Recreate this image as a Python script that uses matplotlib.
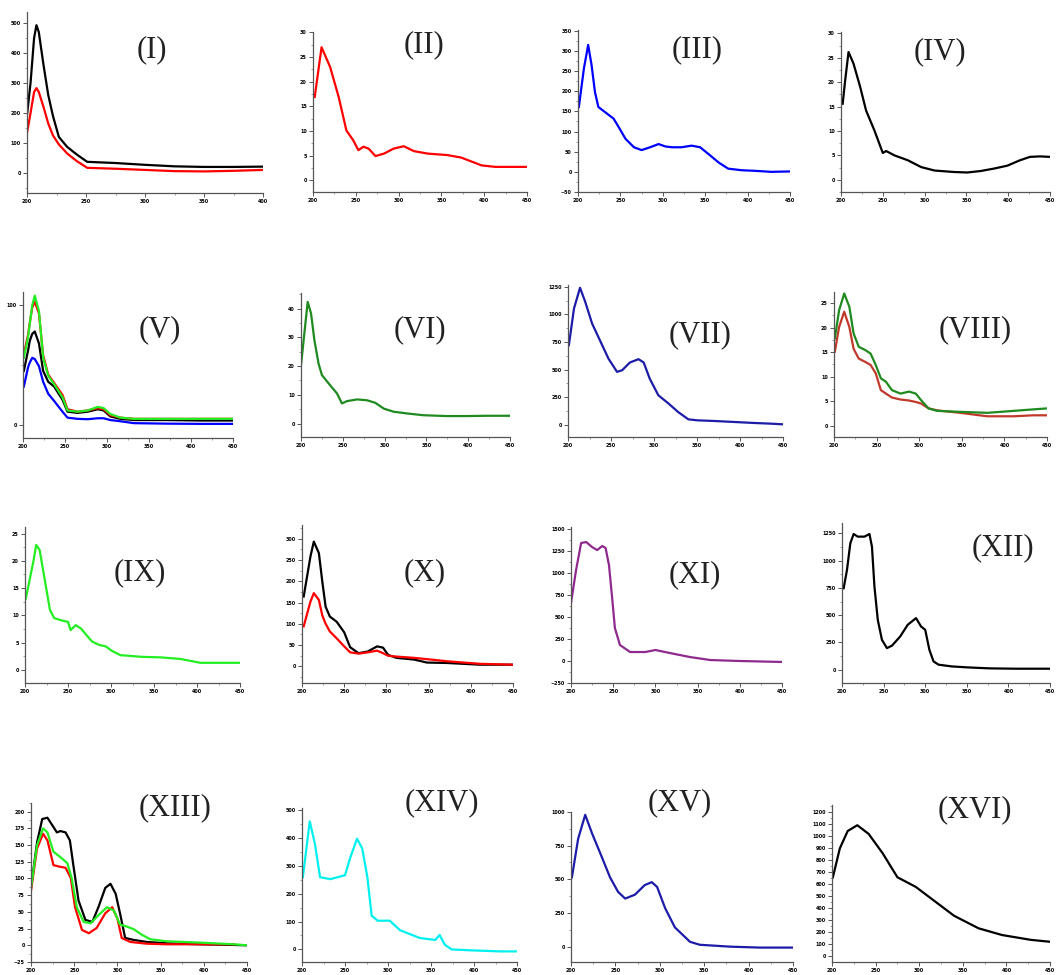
import numpy as np
import matplotlib
matplotlib.use("Agg")
import matplotlib.pyplot as plt
from matplotlib.ticker import MultipleLocator, AutoMinorLocator

# ---- data (wavelength nm / absorbance) ----
i_x = [200, 203, 206, 208, 210, 214, 218, 222, 227, 234, 242, 251, 275, 300, 325, 350, 375, 400]
i_black = [193, 300, 450, 493, 470, 360, 260, 190, 120, 87, 62, 37, 33, 27, 22, 20, 20, 21]
i_red = [133, 200, 270, 283, 270, 220, 165, 125, 95, 65, 40, 17, 14, 10, 6, 5, 7, 10]

ii_x = [202, 210, 220, 230, 239, 247, 253, 259, 265, 273, 283, 294, 306, 318, 334, 357, 373, 397, 413, 436, 450]
ii_red = [16.9, 27.0, 23.0, 16.9, 10.1, 8.1, 6.1, 6.8, 6.4, 4.9, 5.4, 6.4, 6.9, 5.9, 5.4, 5.1, 4.6, 3.0, 2.7, 2.7, 2.7]

iii_x = [201, 207, 212, 216, 220, 224, 232, 242, 248, 256, 266, 275, 285, 295, 303, 311, 322, 334, 344, 354,
         366, 377, 393, 409, 428, 450]
iii_blue = [161, 257, 315, 265, 198, 161, 148, 132, 111, 82, 61, 54, 61, 69, 63, 61, 61, 65, 61, 44,
            23, 8, 4, 2.5, 0, 1]

iv_x = [202, 205, 209, 215, 223, 230, 240, 250, 254, 264, 280, 296, 312, 335, 351, 367, 383, 399, 414, 426, 438, 450]
iv_black = [15.6, 20.4, 26.2, 23.8, 19.0, 14.2, 10.1, 5.5, 5.9, 5.0, 4.0, 2.6, 1.9, 1.6, 1.5, 1.8, 2.3, 2.9,
            4.0, 4.7, 4.8, 4.7]

v_x = [201, 206, 208, 211, 214, 219, 224, 230, 237, 247, 253, 265, 277, 289, 296, 304, 316, 332, 371, 411, 450]
v_green = [56, 73, 84, 100, 108, 95, 56, 41, 34, 23, 12, 11, 12, 15, 14, 9, 6, 5, 5, 5, 5]
v_red = [59, 75, 85, 98, 103, 93, 58, 42, 35, 25, 13, 11, 12, 14, 13, 8, 6, 5, 5, 5, 5]
v_black = [45, 62, 70, 76, 78, 68, 45, 36, 32, 21, 11, 10, 11, 13, 12, 7, 5, 4, 4, 3.6, 3.6]
v_blue = [32, 48, 52, 56, 55, 49, 36, 26, 20, 11, 6, 5, 4.7, 5.5, 5.5, 4, 3, 1.4, 1, 0.8, 0.8]

vi_x = [200, 204, 208, 212, 216, 221, 225, 233, 243, 249, 255, 267, 279, 289, 299, 311, 327, 346, 374, 398, 422, 450]
vi_green = [20.3, 31.4, 42.4, 38.4, 29.1, 20.9, 16.9, 14.0, 10.5, 7.0, 7.8, 8.4, 8.1, 7.2, 5.2, 4.1, 3.5,
            2.9, 2.6, 2.6, 2.7, 2.7]

vii_x = [201, 207, 214, 220, 228, 237, 247, 257, 263, 272, 282, 288, 295, 305, 317, 328, 340, 351, 371, 394,
         417, 436, 450]
vii_blue = [721, 1055, 1242, 1115, 918, 767, 600, 479, 494, 564, 594, 564, 418, 267, 191, 115, 48, 39, 33, 24,
            15, 9, 3]

viii_x = [201, 206, 212, 218, 223, 229, 237, 243, 249, 255, 261, 268, 278, 288, 296, 302, 311, 321, 348, 380,
          411, 434, 450]
viii_green = [17.8, 23.5, 26.9, 24.2, 18.8, 16.1, 15.4, 14.7, 12.4, 9.7, 9.0, 7.3, 6.6, 7.0, 6.6, 5.3, 3.6,
              3.1, 2.9, 2.7, 3.1, 3.4, 3.6]
viii_red = [15.1, 20.1, 23.2, 20.1, 15.7, 13.7, 13.0, 12.4, 10.7, 7.3, 6.6, 5.8, 5.4, 5.2, 4.9, 4.6, 3.6,
            3.2, 2.7, 2.0, 2.0, 2.2, 2.2]

ix_x = [201, 210, 213, 217, 223, 229, 234, 242, 250, 253, 259, 265, 273, 278, 286, 294, 301, 311, 320, 335,
        358, 381, 404, 427, 450]
ix_green = [13.1, 20.1, 22.9, 22.0, 16.5, 11.0, 9.5, 9.1, 8.8, 7.3, 8.2, 7.6, 6.1, 5.2, 4.6, 4.3, 3.5, 2.7,
            2.6, 2.4, 2.3, 2.0, 1.3, 1.3, 1.3]

x_x = [202, 210, 214, 220, 224, 228, 233, 241, 250, 257, 267, 278, 289, 296, 302, 312, 333, 348, 372, 411, 450]
x_black = [164, 258, 293, 266, 200, 140, 117, 105, 80, 45, 31, 35, 47, 44, 27, 20, 16, 9, 8, 4, 4]
x_red = [94, 152, 172, 156, 120, 100, 82, 66, 47, 33, 30, 33, 37, 31, 25, 23, 20, 17, 12, 6, 4]

xi_x = [200, 206, 212, 218, 225, 231, 237, 241, 245, 249, 252, 258, 270, 288, 300, 317, 341, 365, 400, 450]
xi_purple = [659, 1034, 1341, 1352, 1295, 1261, 1307, 1284, 1091, 693, 375, 182, 102, 102, 125, 91, 45, 11, 0, -11]

xii_x = [202, 206, 210, 214, 219, 227, 233, 236, 239, 243, 248, 254, 260, 270, 279, 289, 295, 300, 305, 310,
         316, 332, 351, 378, 409, 450]
xii_black = [747, 915, 1159, 1244, 1220, 1220, 1244, 1128, 762, 457, 274, 198, 220, 305, 412, 473, 396, 366,
             183, 76, 46, 30, 21, 12, 9, 9]

xiii_xk = [200, 207, 213, 219, 224, 230, 234, 240, 245, 249, 255, 263, 271, 278, 286, 292, 298, 303, 309, 319,
           334, 357, 396, 435, 450]
xiii_black = [86, 154, 189, 191, 181, 169, 171, 169, 157, 120, 67, 38, 35, 57, 86, 92, 77, 48, 11, 8, 5, 3,
              1.5, 0.5, 0]
xiii_xr = [200, 207, 214, 219, 226, 232, 240, 246, 251, 259, 267, 276, 286, 294, 300, 305, 315, 334, 357, 396, 435]
xiii_red = [82, 145, 167, 157, 120, 118, 116, 101, 57, 23, 18, 26, 48, 57, 40, 11, 5, 2.4, 1.5, 1.5, 1.5]
xiii_xg = [200, 207, 214, 219, 226, 234, 242, 247, 253, 261, 269, 278, 288, 296, 303, 311, 319, 328, 338, 357,
           396, 435, 450]
xiii_green = [86, 150, 175, 169, 140, 132, 123, 101, 57, 35, 33, 45, 57, 52, 31, 28, 24, 16, 9, 6, 4, 1.5, 0]

xiv_x = [201, 209, 215, 221, 233, 250, 256, 264, 270, 276, 281, 288, 302, 314, 337, 355, 360, 366, 374, 395, 430, 450]
xiv_cyan = [259, 459, 379, 259, 252, 266, 328, 397, 362, 259, 121, 103, 103, 69, 41, 34, 52, 17, 0, -3, -7, -7]

xv_x = [201, 208, 216, 224, 233, 244, 253, 261, 272, 283, 291, 297, 306, 317, 334, 345, 379, 413, 450]
xv_blue = [514, 800, 979, 836, 693, 514, 407, 357, 386, 457, 479, 443, 286, 143, 36, 14, 0, -7, -7]

xvi_x = [201, 209, 218, 229, 242, 258, 275, 296, 318, 340, 368, 395, 428, 450]
xvi_black = [656, 896, 1040, 1088, 1016, 856, 656, 576, 456, 336, 232, 176, 136, 120]

LIME = '#22ee22'
DGREEN = '#1f8a1f'
NAVY = '#1c1ca8'

W, H = 1060, 975
fig = plt.figure(figsize=(W / 100, H / 100), dpi=100)


def panel(box, label, lpos, curves, xlim, ylim, ystep, xstep=50):
    l, t, r, b = box
    ax = fig.add_axes([l / W, 1 - b / H, (r - l) / W, (b - t) / H])
    for xs, ys, c in curves:
        ax.plot(xs, ys, color=c, lw=1.6)
    ax.set_xlim(*xlim)
    ax.set_ylim(*ylim)
    ax.xaxis.set_major_locator(MultipleLocator(xstep))
    ax.xaxis.set_minor_locator(AutoMinorLocator(2))
    ax.yaxis.set_major_locator(MultipleLocator(ystep))
    ax.yaxis.set_minor_locator(AutoMinorLocator(2))
    for s in ['top', 'right']:
        ax.spines[s].set_visible(False)
    for s in ['left', 'bottom']:
        ax.spines[s].set_color('#555555')
        ax.spines[s].set_linewidth(0.9)
    ax.tick_params(which='major', length=3, width=0.7, color='#555555', labelsize=3.5, pad=1.5)
    ax.tick_params(which='minor', length=1.5, width=0.5, color='#777777')
    for lab in ax.get_xticklabels() + ax.get_yticklabels():
        lab.set_fontweight('bold')
    ax.patch.set_alpha(0)
    fig.text(lpos[0] / W, 1 - lpos[1] / H, label, ha='center', va='center',
             fontsize=22, family='Liberation Serif', color='#222222')
    return ax


panel((27, 12, 263, 193), '(I)', (152, 50),
      [(i_x, i_black, 'black'), (i_x, i_red, 'red')], (200, 400), (-67, 537), 100)
panel((313, 32, 527, 192), '(II)', (424, 45),
      [(ii_x, ii_red, 'red')], (200, 450), (-2.4, 30.1), 5)
panel((578, 30, 790, 192), '(III)', (697, 50),
      [(iii_x, iii_blue, 'blue')], (200, 450), (-50, 352), 50)
panel((841, 32, 1050, 192), '(IV)', (940, 52),
      [(iv_x, iv_black, 'black')], (200, 450), (-2.5, 30.3), 5)

panel((23, 292, 233, 438), '(V)', (160, 330),
      [(v_x, v_blue, 'blue'), (v_x, v_black, 'black'), (v_x, v_red, 'red'), (v_x, v_green, LIME)],
      (200, 450), (-11, 111), 100)
panel((301, 293, 510, 437), '(VI)', (420, 330),
      [(vi_x, vi_green, DGREEN)], (200, 450), (-4.7, 45.5), 10)
panel((568, 285, 783, 437), '(VII)', (700, 335),
      [(vii_x, vii_blue, NAVY)], (200, 450), (-112, 1267), 250)
panel((834, 292, 1047, 437), '(VIII)', (975, 330),
      [(viii_x, viii_red, '#c0392b'), (viii_x, viii_green, DGREEN)], (200, 450), (-2.2, 27.2), 5)

panel((25, 527, 240, 683), '(IX)', (140, 573),
      [(ix_x, ix_green, LIME)], (200, 450), (-2.4, 26.2), 5)
panel((302, 525, 513, 683), '(X)', (425, 573),
      [(x_x, x_black, 'black'), (x_x, x_red, 'red')], (200, 450), (-39, 332), 50)
panel((571, 527, 782, 683), '(XI)', (695, 575),
      [(xi_x, xi_purple, '#8e2a8e')], (200, 450), (-250, 1523), 250)
panel((842, 523, 1050, 683), '(XII)', (1003, 548),
      [(xii_x, xii_black, 'black')], (200, 450), (-122, 1345), 250)

panel((31, 803, 247, 962), '(XIII)', (175, 808),
      [(xiii_xk, xiii_black, 'black'), (xiii_xr, xiii_red, 'red'), (xiii_xg, xiii_green, LIME)],
      (200, 450), (-25, 213), 25)
panel((302, 808, 517, 962), '(XIV)', (442, 803),
      [(xiv_x, xiv_cyan, '#00f0f0')], (200, 450), (-45, 507), 100)
panel((571, 812, 793, 962), '(XV)', (680, 803),
      [(xv_x, xv_blue, NAVY)], (200, 450), (-114, 1000), 250)
panel((832, 805, 1050, 962), '(XVI)', (975, 810),
      [(xvi_x, xvi_black, 'black')], (200, 450), (-48, 1256), 100)

fig.savefig('out.png', dpi=100)
